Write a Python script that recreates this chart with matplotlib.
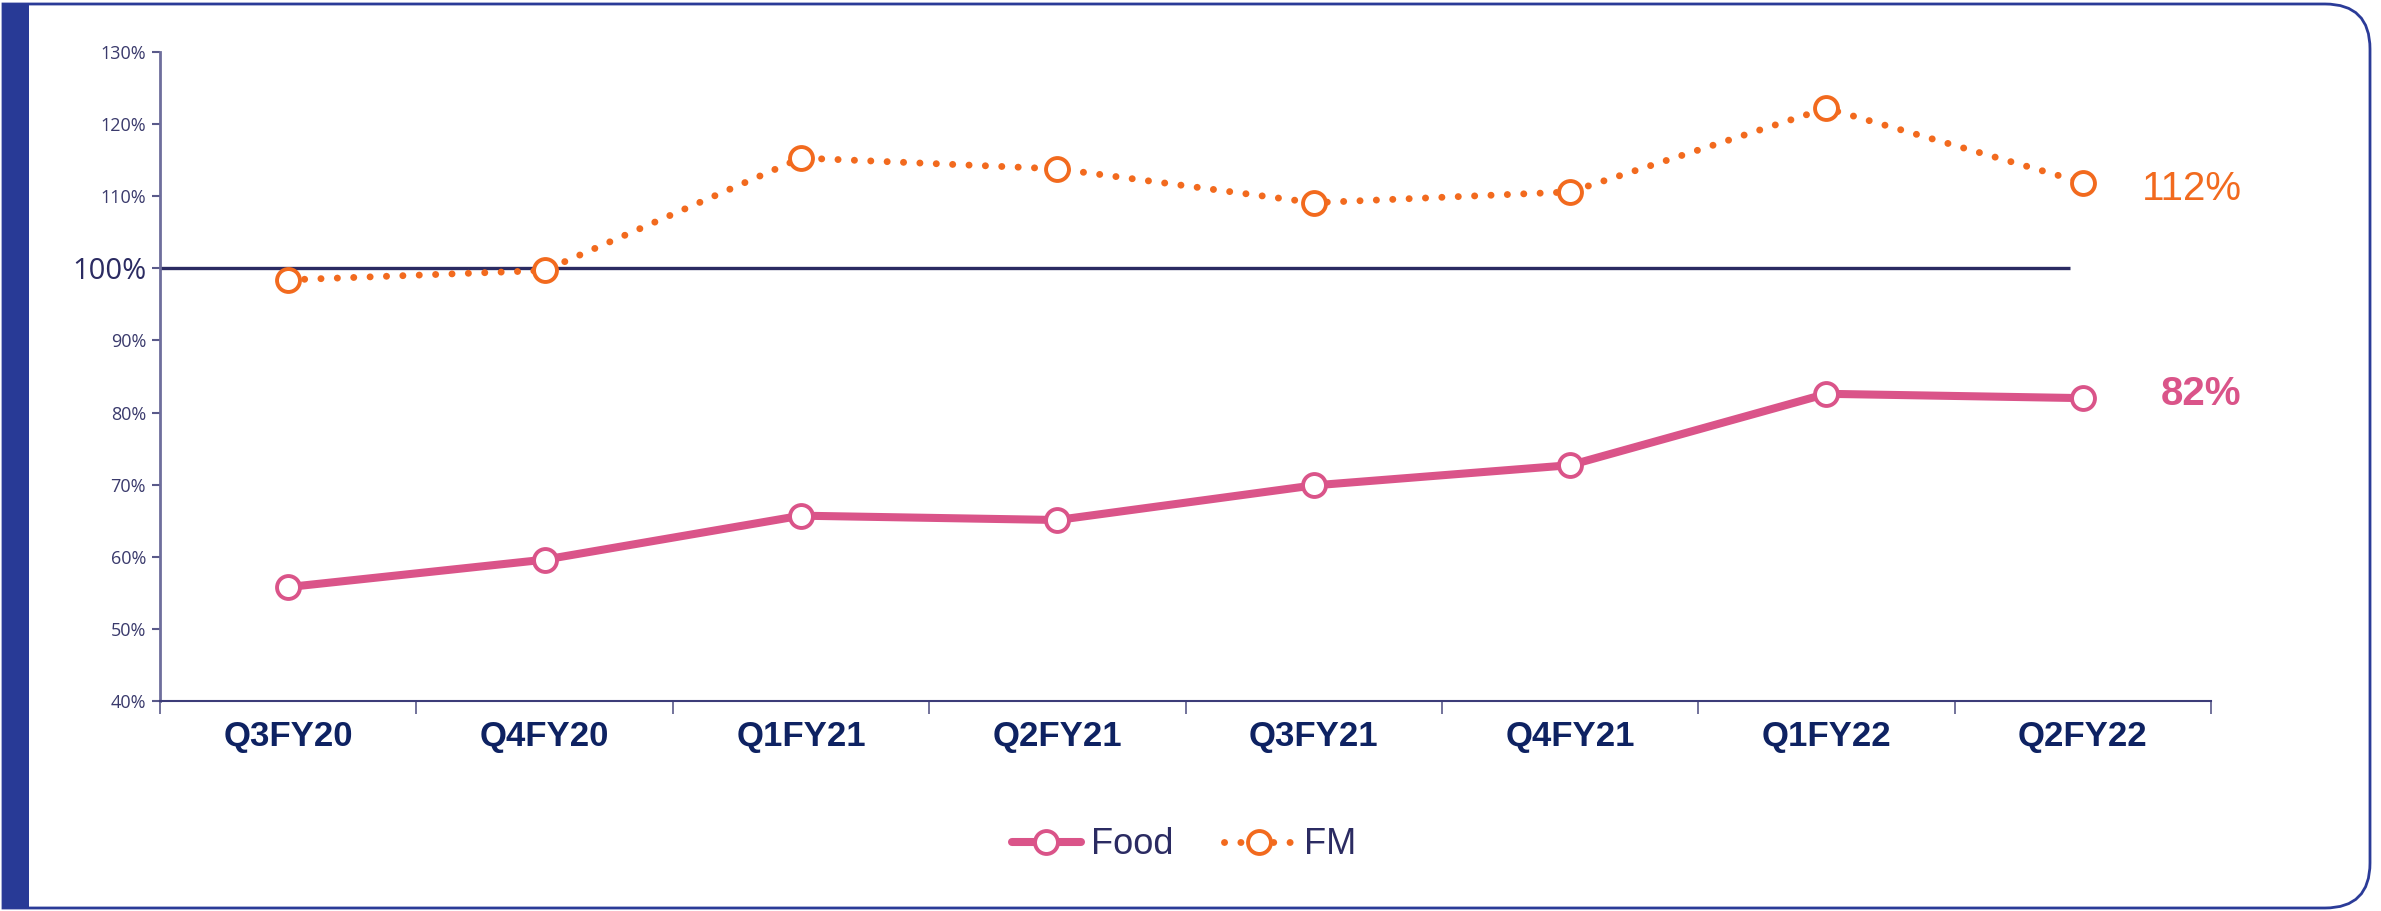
import matplotlib.pyplot as plt
import numpy as np
from matplotlib.path import Path
from matplotlib.patches import PathPatch, Rectangle

# Quarterly values (%)
quarters = ['Q3FY20', 'Q4FY20', 'Q1FY21', 'Q2FY21', 'Q3FY21', 'Q4FY21', 'Q1FY22', 'Q2FY22']
food = [55.8, 59.6, 65.7, 65.1, 69.9, 72.7, 82.6, 82.0]
fm = [98.4, 99.7, 115.3, 113.8, 109.1, 110.6, 122.2, 111.9]
y_ticks = [40, 50, 60, 70, 80, 90, 100, 110, 120, 130]

pink = '#DA5489'
orange = '#F26A1E'
navy = '#2B2B62'
frame_blue = '#2B3B98'

W, H = 2381, 911
fig = plt.figure(figsize=(W / 100, H / 100), dpi=100)

# Background frame: left bar + rounded right corners
bg = fig.add_axes([0, 0, 1, 1], zorder=-1)
bg.set_xlim(0, W)
bg.set_ylim(H, 0)
bg.axis('off')
r = 45
x0, y0, x1, y1 = 3, 4, 2370, 908
verts = [(x0, y0), (x1 - r, y0), (x1, y0), (x1, y0 + r), (x1, y1 - r),
         (x1, y1), (x1 - r, y1), (x0, y1), (x0, y0)]
codes = [Path.MOVETO, Path.LINETO, Path.CURVE3, Path.CURVE3, Path.LINETO,
         Path.CURVE3, Path.CURVE3, Path.LINETO, Path.CLOSEPOLY]
bg.add_patch(PathPatch(Path(verts, codes), facecolor='white', edgecolor=frame_blue, lw=2))
bg.add_patch(Rectangle((x0, y0), 26, y1 - y0, facecolor='#283A96', edgecolor='none'))

ax = fig.add_axes([160 / W, 1 - 701 / H, (2211 - 160) / W, (701 - 52) / H])
x = np.arange(len(quarters))

ax.plot([-0.5, 6.95], [100, 100], color=navy, lw=2.4, zorder=2, solid_capstyle='butt')

ax.plot(x, food, color=pink, lw=5.8, marker='o', ms=16.5, mfc='white', mec=pink,
        mew=2.8, label='Food', zorder=3, solid_capstyle='round')
ax.plot(x, fm, color=orange, lw=5, linestyle=(0, (0.01, 2.35)), dash_capstyle='round',
        marker='o', ms=16.5, mfc='white', mec=orange, mew=2.8, label='FM', zorder=3)

ax.set_xlim(-0.5, 7.5)
ax.set_ylim(40, 130)
ax.set_yticks(y_ticks)
ax.set_yticklabels([f'{v}%' for v in y_ticks], fontsize=13, color='#3A3A6C',
                   family='Open Sans')
for lbl in ax.get_yticklabels():
    if lbl.get_text() == '100%':
        lbl.set_fontsize(21)
        lbl.set_color(navy)
ax.tick_params(axis='y', length=6, width=1.5, color='#5A5A8A', pad=4)

ax.set_xticks(np.arange(-0.5, 8, 1))
ax.set_xticklabels([])
ax.tick_params(axis='x', which='major', length=9, width=1.2, color='#5A5A8A')
ax.set_xticks(x, minor=True)
ax.set_xticklabels(quarters, minor=True, fontsize=25, fontweight='bold',
                   color='#0E2262', family='Liberation Sans')
ax.tick_params(axis='x', which='minor', length=0, pad=14)

for side in ['top', 'right']:
    ax.spines[side].set_visible(False)
ax.spines['left'].set_color('#6E6E9C')
ax.spines['left'].set_linewidth(2)
ax.spines['bottom'].set_color('#3C3C78')
ax.spines['bottom'].set_linewidth(1.5)

ax.text(7.62, fm[-1] - 0.9, '112%', color=orange, fontsize=29, ha='right', va='center',
        family='Liberation Sans', clip_on=False)
ax.text(7.62, food[-1] + 0.6, '82%', color=pink, fontsize=29, fontweight='bold', ha='right',
        va='center', family='Liberation Sans', clip_on=False)

leg = ax.legend(loc='center', bbox_to_anchor=(1184 / W, 1 - 845 / H),
                bbox_transform=fig.transFigure, ncol=2, frameon=False,
                prop={'family': 'Liberation Sans', 'size': 26}, handlelength=1.9,
                columnspacing=1.4, handletextpad=0.3)
for t in leg.get_texts():
    t.set_color(navy)

fig.savefig('out.png', dpi=100)
